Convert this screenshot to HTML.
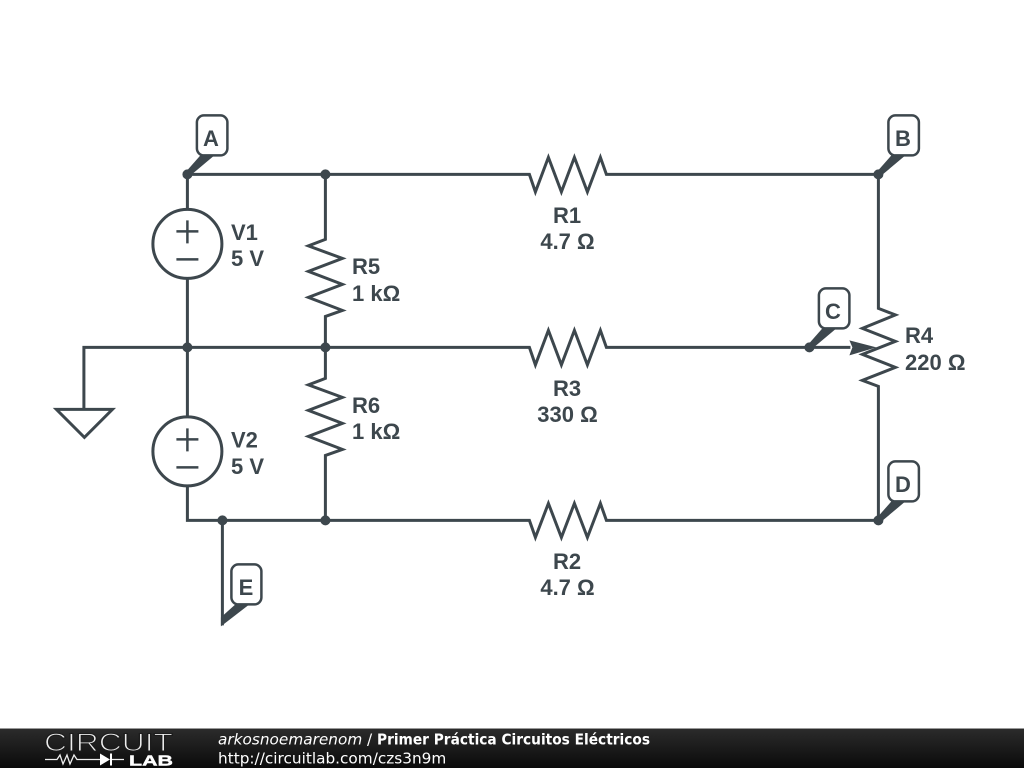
<!DOCTYPE html>
<html><head><meta charset="utf-8"><style>
html,body{margin:0;padding:0;background:#fff;width:1024px;height:768px;overflow:hidden}
svg{display:block}
.w{fill:none;stroke:#3d474d;stroke-width:3;stroke-linejoin:miter}
.t{font-family:"Liberation Sans",sans-serif;font-weight:bold;font-size:22px;fill:#3d474d}
.f{font-family:"DejaVu Sans",sans-serif;font-size:15.3px;fill:#fff}
</style></head><body>
<svg width="1024" height="768" viewBox="0 0 1024 768" xmlns="http://www.w3.org/2000/svg">
<defs><linearGradient id="g" x1="0" y1="0" x2="0" y2="1"><stop offset="0" stop-color="#2b2b2b"/><stop offset="1" stop-color="#0a0a0a"/></linearGradient></defs>
<rect width="1024" height="768" fill="#fff"/>
<g transform="translate(0.4 0.4)">
<!-- wires -->
<path class="w" d="M187 174H529L535 191.500 548 157 561 191.500 574 157 587 191.500 600 157 606 174H878V308L895 314.500 862 328 895 341 862 354 895 367 862 380 878 386V520H606L600 503 587 537 574 503 561 537 548 503 535 537 529 520H187V486M187 416V278M187 209V174"/>
<path class="w" d="M83.500 409V347H529L535 364.500 548 330 561 364.500 574 330 587 364.500 600 330 606 347H850"/>
<path class="w" d="M325 174V239L308 245.500 342 258 308 271 342 284 308 297 342 310 325 316V378L308 384.500 342 397 308 410 342 423 308 436 342 449 325 455V520"/>
<path class="w" d="M222 520V625"/>
<!-- ground -->
<path class="w" d="M56 409H112L84 437Z"/>
<!-- sources -->
<circle class="w" cx="187" cy="243.500" r="34.500"/>
<path class="w" style="stroke-width:2.500" d="M176 231H198M187 220V243M176 259H198"/>
<circle class="w" cx="187" cy="451" r="34.500"/>
<path class="w" style="stroke-width:2.500" d="M176 439H198M187 428V451M176 467H198"/>
<!-- wiper arrow -->
<path fill="#3d474d" d="M849 340L876 347 849 355 852 347Z"/>
<!-- dots -->
<g fill="#3d474d">
<circle cx="187" cy="174" r="5"/><circle cx="325" cy="174" r="5"/><circle cx="878" cy="174" r="5"/>
<circle cx="187" cy="347" r="5"/><circle cx="325" cy="347" r="5"/><circle cx="809" cy="347" r="5"/>
<circle cx="222" cy="520" r="5"/><circle cx="325" cy="520" r="5"/><circle cx="878" cy="520" r="5"/>
<!-- flag wedges -->
<path d="M185 172L200 155H214L189 176Z"/>
<path d="M876 172L891 155H905L880 176Z"/>
<path d="M807 345L822 328H836L811 349Z"/>
<path d="M876 518L891 501H905L880 522Z"/>
<path d="M220.500 626V617L235 604H249Z"/>
</g>
<!-- flags -->
<g fill="#fff" stroke="#3d474d" stroke-width="2.500">
<rect x="196.500" y="115" width="30.500" height="40" rx="7"/>
<rect x="888" y="115" width="30.500" height="40" rx="7"/>
<rect x="818.500" y="288" width="30.500" height="40" rx="7"/>
<rect x="888" y="461" width="30.500" height="40" rx="7"/>
<rect x="231" y="564" width="30" height="40" rx="7"/>
</g>
</g>
<g class="t" text-anchor="middle">
<text x="211" y="146">A</text>
<text x="903" y="146">B</text>
<text x="833" y="319">C</text>
<text x="903" y="492">D</text>
<text x="246" y="595">E</text>
<text x="567" y="223">R1</text>
<text x="567.500" y="249">4.7 Ω</text>
<text x="567" y="396">R3</text>
<text x="567.500" y="422">330 Ω</text>
<text x="567" y="569">R2</text>
<text x="567.500" y="595">4.7 Ω</text>
</g>
<g class="t">
<text x="231" y="240">V1</text>
<text x="231" y="266">5 V</text>
<text x="352" y="274">R5</text>
<text x="352" y="301">1 kΩ</text>
<text x="231" y="447.500">V2</text>
<text x="231" y="474">5 V</text>
<text x="352" y="413">R6</text>
<text x="352" y="439">1 kΩ</text>
<text x="905" y="343">R4</text>
<text x="905" y="370">220 Ω</text>
</g>
<!-- footer -->
<rect x="0" y="729" width="1024" height="39" fill="url(#g)"/>
<rect x="0" y="728" width="1024" height="1" fill="#999"/>
<text x="44" y="751" font-family="Liberation Sans,sans-serif" font-size="25" fill="#eee" stroke="#1c1c1c" stroke-width="1.100" textLength="129" lengthAdjust="spacingAndGlyphs">CIRCUIT</text>
<path d="M45 759.500H57L60 755 63 764 67 755 70 764 74 755 77 759.500H100M112 759.500H124" fill="none" stroke="#eee" stroke-width="1.300"/>
<path d="M100 753.500L110 759.500 100 765.500Z M110 753.500h2v12h-2Z" fill="#fff"/>
<text x="129" y="765.500" font-family="Liberation Sans,sans-serif" font-weight="bold" font-size="14.500" fill="#fff" stroke="#fff" stroke-width="0.400" textLength="44" lengthAdjust="spacingAndGlyphs">LAB</text>
<text class="f" x="218" y="744.300" font-style="italic">arkosnoemarenom</text>
<text class="f" x="367" y="744.300">/</text>
<text class="f" x="377" y="744.300" font-weight="bold" textLength="273" lengthAdjust="spacingAndGlyphs">Primer Práctica Circuitos Eléctricos</text>
<text class="f" x="218" y="763.300">http://circuitlab.com/czs3n9m</text>
</svg>
</body></html>
